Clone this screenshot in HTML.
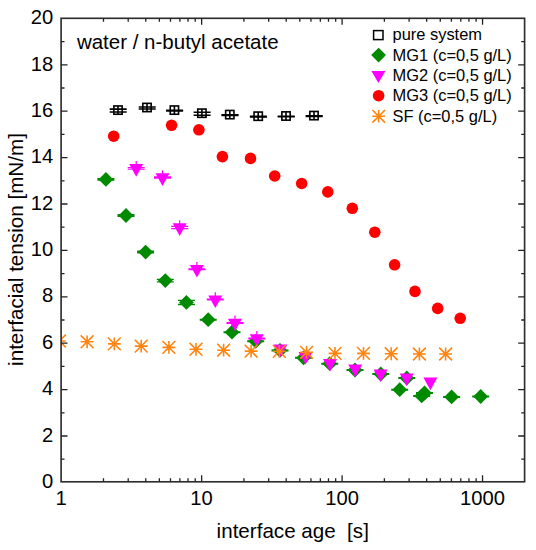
<!DOCTYPE html><html><head><meta charset="utf-8"><style>html,body{margin:0;padding:0;background:#fff;}body{width:536px;height:550px;overflow:hidden;}svg{display:block;}text{font-family:"Liberation Sans",sans-serif;fill:#000;}</style></head><body>
<svg width="536" height="550" viewBox="0 0 536 550">
<rect width="536" height="550" fill="#fff"/>
<defs><clipPath id="c"><rect x="61.10" y="18.30" width="463.50" height="463.50"/></clipPath></defs>
<g clip-path="url(#c)">
<circle cx="113.7" cy="136.2" r="5.8" fill="#ff0000"/>
<circle cx="171.6" cy="125.3" r="5.8" fill="#ff0000"/>
<circle cx="198.9" cy="129.8" r="5.8" fill="#ff0000"/>
<circle cx="222.4" cy="156.6" r="5.8" fill="#ff0000"/>
<circle cx="250.5" cy="158.4" r="5.8" fill="#ff0000"/>
<circle cx="274.7" cy="176.0" r="5.8" fill="#ff0000"/>
<circle cx="301.7" cy="183.5" r="5.8" fill="#ff0000"/>
<circle cx="327.8" cy="191.9" r="5.8" fill="#ff0000"/>
<circle cx="352.3" cy="208.3" r="5.8" fill="#ff0000"/>
<circle cx="374.8" cy="232.2" r="5.8" fill="#ff0000"/>
<circle cx="394.6" cy="264.8" r="5.8" fill="#ff0000"/>
<circle cx="415.0" cy="291.4" r="5.8" fill="#ff0000"/>
<circle cx="437.7" cy="308.4" r="5.8" fill="#ff0000"/>
<circle cx="460.2" cy="318.3" r="5.8" fill="#ff0000"/>
<g stroke="#000" fill="none" stroke-width="1.6"><rect x="113.85" y="105.95" width="8.3" height="8.3"/><line x1="118.00" y1="105.95" x2="118.00" y2="114.25"/><line x1="109.70" y1="109.15" x2="126.70" y2="109.15"/><line x1="109.70" y1="112.05" x2="126.70" y2="112.05"/></g>
<g stroke="#000" fill="none" stroke-width="1.6"><rect x="142.85" y="103.35" width="8.3" height="8.3"/><line x1="147.00" y1="103.35" x2="147.00" y2="111.65"/><line x1="138.70" y1="107.00" x2="155.70" y2="107.00"/><line x1="138.70" y1="109.00" x2="155.70" y2="109.00"/></g>
<g stroke="#000" fill="none" stroke-width="1.6"><rect x="170.25" y="105.95" width="8.3" height="8.3"/><line x1="174.40" y1="105.95" x2="174.40" y2="114.25"/><line x1="166.10" y1="110.30" x2="183.10" y2="110.30"/><line x1="166.10" y1="110.90" x2="183.10" y2="110.90"/></g>
<g stroke="#000" fill="none" stroke-width="1.6"><rect x="197.75" y="109.05" width="8.3" height="8.3"/><line x1="201.90" y1="109.05" x2="201.90" y2="117.35"/><line x1="193.60" y1="112.20" x2="210.60" y2="112.20"/><line x1="193.60" y1="115.20" x2="210.60" y2="115.20"/></g>
<g stroke="#000" fill="none" stroke-width="1.6"><rect x="225.65" y="110.45" width="8.3" height="8.3"/><line x1="229.80" y1="110.45" x2="229.80" y2="118.75"/><line x1="221.50" y1="114.80" x2="238.50" y2="114.80"/><line x1="221.50" y1="115.40" x2="238.50" y2="115.40"/></g>
<g stroke="#000" fill="none" stroke-width="1.6"><rect x="254.05" y="112.05" width="8.3" height="8.3"/><line x1="258.20" y1="112.05" x2="258.20" y2="120.35"/><line x1="249.90" y1="116.40" x2="266.90" y2="116.40"/><line x1="249.90" y1="117.00" x2="266.90" y2="117.00"/></g>
<g stroke="#000" fill="none" stroke-width="1.6"><rect x="281.85" y="111.85" width="8.3" height="8.3"/><line x1="286.00" y1="111.85" x2="286.00" y2="120.15"/><line x1="277.70" y1="116.20" x2="294.70" y2="116.20"/><line x1="277.70" y1="116.80" x2="294.70" y2="116.80"/></g>
<g stroke="#000" fill="none" stroke-width="1.6"><rect x="309.85" y="111.45" width="8.3" height="8.3"/><line x1="314.00" y1="111.45" x2="314.00" y2="119.75"/><line x1="305.70" y1="115.80" x2="322.70" y2="115.80"/><line x1="305.70" y1="116.40" x2="322.70" y2="116.40"/></g>
<path d="M105.90 172.00l7.4 7.4l-7.4 7.4l-7.4 -7.4z" fill="#008a00"/>
<path d="M97.4 179.40h17" stroke="#008a00" stroke-width="2.8"/>
<path d="M126.00 208.10l7.4 7.4l-7.4 7.4l-7.4 -7.4z" fill="#008a00"/>
<path d="M117.5 215.50h17" stroke="#008a00" stroke-width="3.0"/>
<path d="M145.60 244.70l7.4 7.4l-7.4 7.4l-7.4 -7.4z" fill="#008a00"/>
<path d="M137.1 252.10h17" stroke="#008a00" stroke-width="3.0"/>
<path d="M165.30 273.20l7.4 7.4l-7.4 7.4l-7.4 -7.4z" fill="#008a00"/>
<path d="M156.8 279.30h17M156.8 281.90h17" stroke="#008a00" stroke-width="1.3"/>
<path d="M186.40 295.00l7.4 7.4l-7.4 7.4l-7.4 -7.4z" fill="#008a00"/>
<path d="M177.9 300.30h17M177.9 304.50h17" stroke="#008a00" stroke-width="1.3"/>
<path d="M208.20 312.30l7.4 7.4l-7.4 7.4l-7.4 -7.4z" fill="#008a00"/>
<path d="M199.7 319.70h17" stroke="#008a00" stroke-width="2.0"/>
<path d="M232.00 324.80l7.4 7.4l-7.4 7.4l-7.4 -7.4z" fill="#008a00"/>
<path d="M223.5 332.20h17" stroke="#008a00" stroke-width="2.0"/>
<path d="M255.70 333.90l7.4 7.4l-7.4 7.4l-7.4 -7.4z" fill="#008a00"/>
<path d="M247.2 341.30h17" stroke="#008a00" stroke-width="2.0"/>
<path d="M280.00 343.00l7.4 7.4l-7.4 7.4l-7.4 -7.4z" fill="#008a00"/>
<path d="M271.5 350.40h17" stroke="#008a00" stroke-width="2.0"/>
<path d="M303.50 350.40l7.4 7.4l-7.4 7.4l-7.4 -7.4z" fill="#008a00"/>
<path d="M295.0 357.80h17" stroke="#008a00" stroke-width="2.0"/>
<path d="M329.70 356.30l7.4 7.4l-7.4 7.4l-7.4 -7.4z" fill="#008a00"/>
<path d="M321.2 363.70h17" stroke="#008a00" stroke-width="2.0"/>
<path d="M355.00 362.60l7.4 7.4l-7.4 7.4l-7.4 -7.4z" fill="#008a00"/>
<path d="M346.5 370.00h17" stroke="#008a00" stroke-width="2.0"/>
<path d="M380.80 366.60l7.4 7.4l-7.4 7.4l-7.4 -7.4z" fill="#008a00"/>
<path d="M372.3 374.00h17" stroke="#008a00" stroke-width="2.0"/>
<path d="M406.80 370.60l7.4 7.4l-7.4 7.4l-7.4 -7.4z" fill="#008a00"/>
<path d="M398.3 378.00h17" stroke="#008a00" stroke-width="2.0"/>
<path d="M399.70 382.30l7.4 7.4l-7.4 7.4l-7.4 -7.4z" fill="#008a00"/>
<path d="M391.2 389.70h17" stroke="#008a00" stroke-width="2.0"/>
<path d="M421.70 388.50l7.4 7.4l-7.4 7.4l-7.4 -7.4z" fill="#008a00"/>
<path d="M413.2 395.90h17" stroke="#008a00" stroke-width="2.0"/>
<path d="M424.50 385.60l7.4 7.4l-7.4 7.4l-7.4 -7.4z" fill="#008a00"/>
<path d="M416.0 393.00h17" stroke="#008a00" stroke-width="2.0"/>
<path d="M451.60 389.50l7.4 7.4l-7.4 7.4l-7.4 -7.4z" fill="#008a00"/>
<path d="M443.1 396.90h17" stroke="#008a00" stroke-width="2.0"/>
<path d="M480.70 389.10l7.4 7.4l-7.4 7.4l-7.4 -7.4z" fill="#008a00"/>
<path d="M472.2 396.50h17" stroke="#008a00" stroke-width="2.0"/>
<path d="M129.20 164.10h14l-7 12.6z" fill="#ff00ff"/>
<path d="M127.7 167.50h17M127.7 169.10h17M136.2 161.0v4" stroke="#ff00ff" stroke-width="1.2"/>
<path d="M155.50 173.30h14l-7 12.6z" fill="#ff00ff"/>
<path d="M154.0 176.80h17M154.0 178.20h17M162.5 170.2v4" stroke="#ff00ff" stroke-width="1.2"/>
<path d="M172.70 223.30h14l-7 12.6z" fill="#ff00ff"/>
<path d="M171.2 226.30h17M171.2 228.70h17M179.7 220.2v4" stroke="#ff00ff" stroke-width="1.2"/>
<path d="M189.90 265.00h14l-7 12.6z" fill="#ff00ff"/>
<path d="M188.4 269.20h17" stroke="#ff00ff" stroke-width="2"/><path d="M196.9 261.9v4" stroke="#ff00ff" stroke-width="1.2"/>
<path d="M208.30 295.40h14l-7 12.6z" fill="#ff00ff"/>
<path d="M206.8 299.60h17" stroke="#ff00ff" stroke-width="2"/><path d="M215.3 292.3v4" stroke="#ff00ff" stroke-width="1.2"/>
<path d="M228.00 318.70h14l-7 12.6z" fill="#ff00ff"/>
<path d="M226.5 322.90h17" stroke="#ff00ff" stroke-width="2"/><path d="M235.0 315.6v4" stroke="#ff00ff" stroke-width="1.2"/>
<path d="M249.80 334.20h14l-7 12.6z" fill="#ff00ff"/>
<path d="M248.3 338.40h17" stroke="#ff00ff" stroke-width="2"/><path d="M256.8 331.1v4" stroke="#ff00ff" stroke-width="1.2"/>
<path d="M273.40 344.40h14l-7 12.6z" fill="#ff00ff"/>
<path d="M298.50 352.00h14l-7 12.6z" fill="#ff00ff"/>
<path d="M323.00 359.00h14l-7 12.6z" fill="#ff00ff"/>
<path d="M348.20 364.60h14l-7 12.6z" fill="#ff00ff"/>
<path d="M373.60 369.40h14l-7 12.6z" fill="#ff00ff"/>
<path d="M399.70 373.50h14l-7 12.6z" fill="#ff00ff"/>
<path d="M423.40 377.60h14l-7 12.6z" fill="#ff00ff"/>
<path d="M53.00 341.00h12.80M59.40 334.60v12.80M53.00 334.60l12.80 12.80M65.80 334.60l-12.80 12.80" stroke="#ff8512" stroke-width="1.60" fill="none"/>
<path d="M80.70 341.80h12.80M87.10 335.40v12.80M80.70 335.40l12.80 12.80M93.50 335.40l-12.80 12.80" stroke="#ff8512" stroke-width="1.60" fill="none"/>
<path d="M107.90 343.90h12.80M114.30 337.50v12.80M107.90 337.50l12.80 12.80M120.70 337.50l-12.80 12.80" stroke="#ff8512" stroke-width="1.60" fill="none"/>
<path d="M134.80 346.10h12.80M141.20 339.70v12.80M134.80 339.70l12.80 12.80M147.60 339.70l-12.80 12.80" stroke="#ff8512" stroke-width="1.60" fill="none"/>
<path d="M162.50 347.40h12.80M168.90 341.00v12.80M162.50 341.00l12.80 12.80M175.30 341.00l-12.80 12.80" stroke="#ff8512" stroke-width="1.60" fill="none"/>
<path d="M189.60 349.30h12.80M196.00 342.90v12.80M189.60 342.90l12.80 12.80M202.40 342.90l-12.80 12.80" stroke="#ff8512" stroke-width="1.60" fill="none"/>
<path d="M217.20 350.20h12.80M223.60 343.80v12.80M217.20 343.80l12.80 12.80M230.00 343.80l-12.80 12.80" stroke="#ff8512" stroke-width="1.60" fill="none"/>
<path d="M244.70 351.10h12.80M251.10 344.70v12.80M244.70 344.70l12.80 12.80M257.50 344.70l-12.80 12.80" stroke="#ff8512" stroke-width="1.60" fill="none"/>
<path d="M272.90 351.40h12.80M279.30 345.00v12.80M272.90 345.00l12.80 12.80M285.70 345.00l-12.80 12.80" stroke="#ff8512" stroke-width="1.60" fill="none"/>
<path d="M300.20 352.40h12.80M306.60 346.00v12.80M300.20 346.00l12.80 12.80M313.00 346.00l-12.80 12.80" stroke="#ff8512" stroke-width="1.60" fill="none"/>
<path d="M328.60 353.40h12.80M335.00 347.00v12.80M328.60 347.00l12.80 12.80M341.40 347.00l-12.80 12.80" stroke="#ff8512" stroke-width="1.60" fill="none"/>
<path d="M357.10 353.40h12.80M363.50 347.00v12.80M357.10 347.00l12.80 12.80M369.90 347.00l-12.80 12.80" stroke="#ff8512" stroke-width="1.60" fill="none"/>
<path d="M384.85 353.75h12.80M391.25 347.35v12.80M384.85 347.35l12.80 12.80M397.65 347.35l-12.80 12.80" stroke="#ff8512" stroke-width="1.60" fill="none"/>
<path d="M413.00 354.00h12.80M419.40 347.60v12.80M413.00 347.60l12.80 12.80M425.80 347.60l-12.80 12.80" stroke="#ff8512" stroke-width="1.60" fill="none"/>
<path d="M439.20 354.00h12.80M445.60 347.60v12.80M439.20 347.60l12.80 12.80M452.00 347.60l-12.80 12.80" stroke="#ff8512" stroke-width="1.60" fill="none"/>
</g>
<rect x="61.10" y="18.30" width="463.50" height="463.50" fill="none" stroke="#2e2e2e" stroke-width="1.65"/>
<path d="M61.10 459.20h3.4M524.60 459.20h-3.4M61.10 436.00h6.4M524.60 436.00h-6.4M61.10 412.80h3.4M524.60 412.80h-3.4M61.10 389.60h6.4M524.60 389.60h-6.4M61.10 366.40h3.4M524.60 366.40h-3.4M61.10 343.20h6.4M524.60 343.20h-6.4M61.10 320.00h3.4M524.60 320.00h-3.4M61.10 296.80h6.4M524.60 296.80h-6.4M61.10 273.60h3.4M524.60 273.60h-3.4M61.10 250.40h6.4M524.60 250.40h-6.4M61.10 227.20h3.4M524.60 227.20h-3.4M61.10 204.00h6.4M524.60 204.00h-6.4M61.10 180.80h3.4M524.60 180.80h-3.4M61.10 157.60h6.4M524.60 157.60h-6.4M61.10 134.40h3.4M524.60 134.40h-3.4M61.10 111.20h6.4M524.60 111.20h-6.4M61.10 88.00h3.4M524.60 88.00h-3.4M61.10 64.80h6.4M524.60 64.80h-6.4M61.10 41.60h3.4M524.60 41.60h-3.4M103.48 481.80v-3.5M103.48 18.30v3.5M128.21 481.80v-3.5M128.21 18.30v3.5M145.76 481.80v-3.5M145.76 18.30v3.5M159.37 481.80v-3.5M159.37 18.30v3.5M170.49 481.80v-3.5M170.49 18.30v3.5M179.89 481.80v-3.5M179.89 18.30v3.5M188.04 481.80v-3.5M188.04 18.30v3.5M195.22 481.80v-3.5M195.22 18.30v3.5M201.65 481.80v-6.5M201.65 18.30v6.5M243.93 481.80v-3.5M243.93 18.30v3.5M268.66 481.80v-3.5M268.66 18.30v3.5M286.21 481.80v-3.5M286.21 18.30v3.5M299.82 481.80v-3.5M299.82 18.30v3.5M310.94 481.80v-3.5M310.94 18.30v3.5M320.34 481.80v-3.5M320.34 18.30v3.5M328.49 481.80v-3.5M328.49 18.30v3.5M335.67 481.80v-3.5M335.67 18.30v3.5M342.10 481.80v-6.5M342.10 18.30v6.5M384.38 481.80v-3.5M384.38 18.30v3.5M409.11 481.80v-3.5M409.11 18.30v3.5M426.66 481.80v-3.5M426.66 18.30v3.5M440.27 481.80v-3.5M440.27 18.30v3.5M451.39 481.80v-3.5M451.39 18.30v3.5M460.79 481.80v-3.5M460.79 18.30v3.5M468.94 481.80v-3.5M468.94 18.30v3.5M476.12 481.80v-3.5M476.12 18.30v3.5M482.55 481.80v-6.5M482.55 18.30v6.5" stroke="#222" stroke-width="1.3" fill="none"/>
<text x="53.3" y="487.8" font-size="20.2" text-anchor="end">0</text>
<text x="53.3" y="441.5" font-size="20.2" text-anchor="end">2</text>
<text x="53.3" y="395.1" font-size="20.2" text-anchor="end">4</text>
<text x="53.3" y="348.8" font-size="20.2" text-anchor="end">6</text>
<text x="53.3" y="302.4" font-size="20.2" text-anchor="end">8</text>
<text x="53.3" y="256.1" font-size="20.2" text-anchor="end">10</text>
<text x="53.3" y="209.8" font-size="20.2" text-anchor="end">12</text>
<text x="53.3" y="163.4" font-size="20.2" text-anchor="end">14</text>
<text x="53.3" y="117.1" font-size="20.2" text-anchor="end">16</text>
<text x="53.3" y="70.7" font-size="20.2" text-anchor="end">18</text>
<text x="53.3" y="24.4" font-size="20.2" text-anchor="end">20</text>
<text x="61.2" y="504.8" font-size="20.2" text-anchor="middle">1</text>
<text x="201.6" y="504.8" font-size="20.2" text-anchor="middle">10</text>
<text x="342.1" y="504.8" font-size="20.2" text-anchor="middle">100</text>
<text x="482.5" y="504.8" font-size="20.2" text-anchor="middle">1000</text>
<text x="292.75" y="537.5" font-size="20.6" text-anchor="middle" xml:space="preserve">interface age  [s]</text>
<text transform="translate(22.6 249.5) rotate(-90)" x="0" y="0" font-size="20.65" text-anchor="middle">interfacial tension [mN/m]</text>
<text x="76.9" y="49.3" font-size="20.5">water / n-butyl acetate</text>
<text x="392.5" y="39.8" font-size="16.45">pure system</text>
<text x="392.5" y="60.9" font-size="16.45">MG1 (c=0,5 g/L)</text>
<text x="392.5" y="81.2" font-size="16.45">MG2 (c=0,5 g/L)</text>
<text x="392.5" y="101.4" font-size="16.45">MG3 (c=0,5 g/L)</text>
<text x="392.5" y="121.7" font-size="16.45">SF (c=0,5 g/L)</text>
<rect x="373.6" y="30.6" width="9.4" height="9" fill="none" stroke="#000" stroke-width="1.5"/>
<path d="M378.6 47.7l7.4 7.4l-7.4 7.4l-7.4 -7.4z" fill="#008a00"/>
<path d="M371.4 71h14l-7 12z" fill="#ff00ff"/>
<circle cx="378.6" cy="95.7" r="5.8" fill="#ff0000"/>
<path d="M372.40 116.30h12.60M378.70 110.00v12.60M372.40 110.00l12.60 12.60M385.00 110.00l-12.60 12.60" stroke="#ff8512" stroke-width="1.60" fill="none"/>
</svg></body></html>
